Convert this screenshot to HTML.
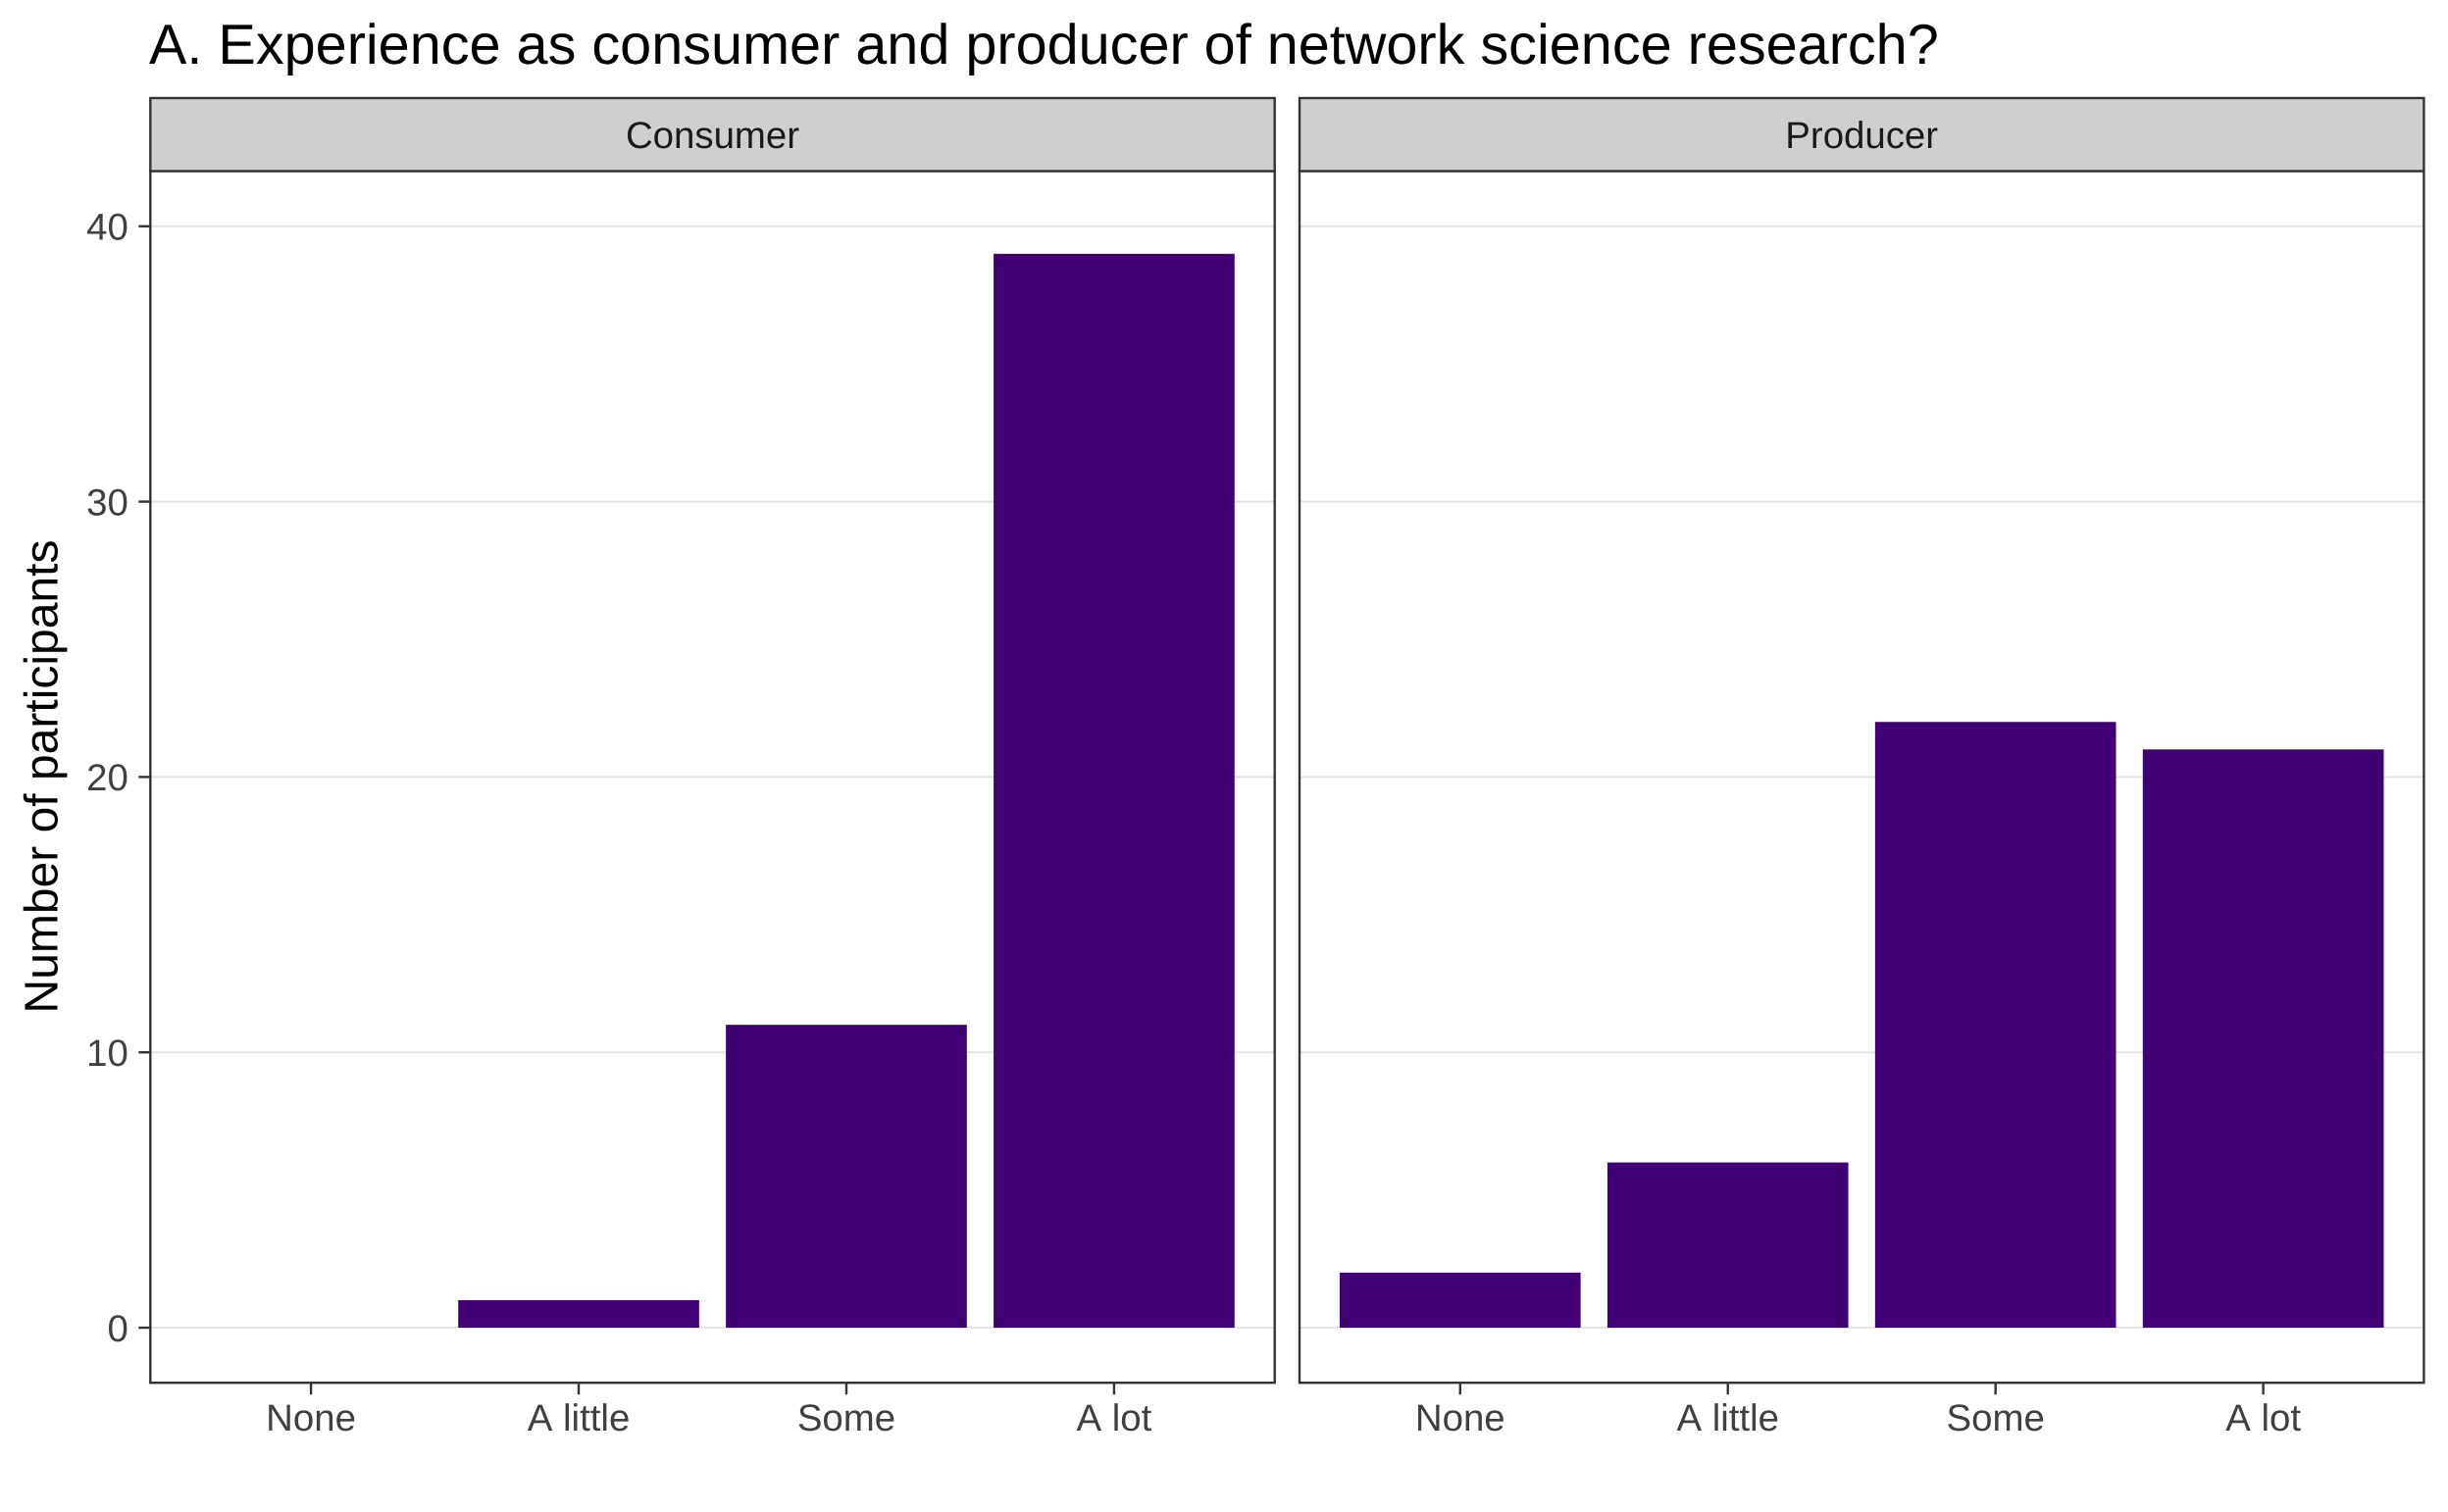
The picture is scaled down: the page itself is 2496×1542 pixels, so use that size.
<!DOCTYPE html>
<html lang="en">
<head>
<meta charset="utf-8">
<title>Experience as consumer and producer of network science research</title>
<style>
html,body{margin:0;padding:0;background:#fff;width:2496px;height:1542px;overflow:hidden}
svg{display:block}
text{font-family:"Liberation Sans",Arial,sans-serif;text-rendering:geometricPrecision;font-kerning:none}
</style>
</head>
<body>
<svg id="chart" xmlns="http://www.w3.org/2000/svg" width="2496" height="1542" viewBox="0 0 2496 1542">
  <rect x="0" y="0" width="2496" height="1542" fill="#ffffff"/>
  <text x="152" y="65" font-size="57.6" fill="#000000">A. Experience as consumer and producer of network science research?</text>
  <text transform="translate(58.3,792) rotate(-90)" text-anchor="middle" font-size="48" fill="#000000">Number of participants</text>
  <g id="panel-consumer">
    <rect x="153.3" y="100" width="1146.4" height="74.6" fill="#cfcfcf" stroke="#333333" stroke-width="2.4"/>
    <text x="726.5" y="151" text-anchor="middle" font-size="38.4" fill="#1a1a1a">Consumer</text>
  </g>
  <g id="panel-producer">
    <rect x="1325" y="100" width="1146.4" height="74.6" fill="#cfcfcf" stroke="#333333" stroke-width="2.4"/>
    <text x="1898.2" y="151" text-anchor="middle" font-size="38.4" fill="#1a1a1a">Producer</text>
  </g>
</svg>
<script>
const categories = ["None", "A little", "Some", "A lot"];
const consumerValues = [0, 1, 11, 39];
const producerValues = [2, 6, 22, 21];
const yTicks = [0, 10, 20, 30, 40];

const SVG_NS = "http://www.w3.org/2000/svg";
const PLOT_TOP = 174.6;
const PLOT_BOTTOM = 1410.2;
const PANEL_WIDTH = 1146.4;
const Y_MIN = -2;
const Y_MAX = 42;
const X_MIN = 0.4;
const X_MAX = 4.6;
const BAR_WIDTH = 0.9;

function yScale(value) {
  return PLOT_BOTTOM - (value - Y_MIN) / (Y_MAX - Y_MIN) * (PLOT_BOTTOM - PLOT_TOP);
}
function xScale(left, position) {
  return left + (position - X_MIN) / (X_MAX - X_MIN) * PANEL_WIDTH;
}
function make(tag, parent) {
  const el = document.createElementNS(SVG_NS, tag);
  parent.appendChild(el);
  return el;
}

function drawPanel(groupId, left, values, showYAxis) {
  const group = document.getElementById(groupId);

  const background = make("rect", group);
  background.setAttribute("x", left);
  background.setAttribute("y", PLOT_TOP);
  background.setAttribute("width", PANEL_WIDTH);
  background.setAttribute("height", PLOT_BOTTOM - PLOT_TOP);
  background.setAttribute("fill", "#ffffff");
  
  

  yTicks.forEach(function (tick) {
    const y = yScale(tick);
    const grid = make("line", group);
    grid.setAttribute("x1", left);
    grid.setAttribute("x2", left + PANEL_WIDTH);
    grid.setAttribute("y1", y);
    grid.setAttribute("y2", y);
    grid.setAttribute("stroke", tick === 0 ? "#cccccc" : "#e4e4e4");
    grid.setAttribute("stroke-width", tick === 0 ? 1 : 2);
    
    

    if (showYAxis) {
      const mark = make("line", group);
      mark.setAttribute("x1", left - 12);
      mark.setAttribute("x2", left);
      mark.setAttribute("y1", y);
      mark.setAttribute("y2", y);
      mark.setAttribute("stroke", "#333333");
      mark.setAttribute("stroke-width", 2.4);
      
      

      const label = make("text", group);
      label.setAttribute("x", left - 22.5);
      label.setAttribute("y", y + 13.8);
      label.setAttribute("text-anchor", "end");
      label.setAttribute("font-size", 38.4);
      label.setAttribute("fill", "#404040");
      
      
      label.textContent = String(tick);
    }
  });

  categories.forEach(function (category, index) {
    const position = index + 1;
    const value = values[index];
    const barLeft = xScale(left, position - BAR_WIDTH / 2);
    const barRight = xScale(left, position + BAR_WIDTH / 2);

    if (value > 0) {
      const bar = make("rect", group);
      bar.setAttribute("x", barLeft);
      bar.setAttribute("y", yScale(value));
      bar.setAttribute("width", barRight - barLeft);
      bar.setAttribute("height", yScale(0) - yScale(value));
      bar.setAttribute("fill", "#410074");
      
      
    }

    const cx = xScale(left, position);
    const mark = make("line", group);
    mark.setAttribute("x1", cx);
    mark.setAttribute("x2", cx);
    mark.setAttribute("y1", PLOT_BOTTOM);
    mark.setAttribute("y2", PLOT_BOTTOM + 12);
    mark.setAttribute("stroke", "#333333");
    mark.setAttribute("stroke-width", 2.4);
    
    

    const label = make("text", group);
    label.setAttribute("x", cx);
    label.setAttribute("y", 1459);
    label.setAttribute("text-anchor", "middle");
    label.setAttribute("font-size", 38.4);
    label.setAttribute("fill", "#404040");
    
    
    label.textContent = category;
  });

  const border = make("rect", group);
  border.setAttribute("x", left);
  border.setAttribute("y", PLOT_TOP);
  border.setAttribute("width", PANEL_WIDTH);
  border.setAttribute("height", PLOT_BOTTOM - PLOT_TOP);
  border.setAttribute("fill", "none");
  border.setAttribute("stroke", "#333333");
  border.setAttribute("stroke-width", 2.4);
  
  
}

drawPanel("panel-consumer", 153.3, consumerValues, true);
drawPanel("panel-producer", 1325, producerValues, false);
</script>
</body>
</html>
